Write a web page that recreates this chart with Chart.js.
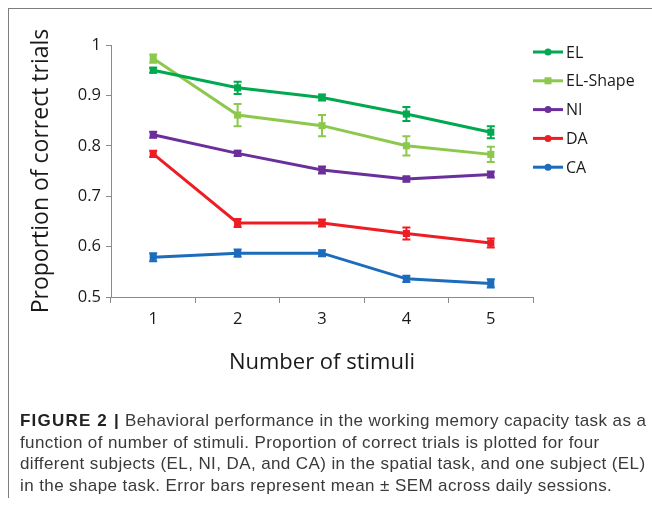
<!DOCTYPE html>
<html>
<head>
<meta charset="utf-8">
<script src="https://cdn.jsdelivr.net/npm/chart.js@4.4.1/dist/chart.umd.min.js"></script>
<style>
  body { margin: 0; background: #fff; }
  #wrap { position: relative; width: 652px; height: 505px; overflow: hidden; }
  #grafico { position: absolute; left: 0; top: 0; }
  #marco { position: absolute; left: 8px; top: 8px; width: 660px; height: 489px;
           border-left: 1.5px solid #7d7d7d; border-top: 1.5px solid #7d7d7d; pointer-events: none; }
  #pie { position: absolute; left: 20px; top: 410px; font-family: "Liberation Sans", Arial, sans-serif;
         font-size: 17px; letter-spacing: 0.4px; line-height: 21.7px; color: #3a3a3a; white-space: nowrap; }
  #pie b { color: #222; letter-spacing: 1.2px; }
</style>
</head>
<body>
<div id="wrap">
  <canvas id="grafico" width="652" height="390"></canvas>
  <div id="marco"></div>
  <div id="pie">
    <b>FIGURE 2 |</b> Behavioral performance in the working memory capacity task as a<br>
    function of number of stimuli. Proportion of correct trials is plotted for four<br>
    different subjects (EL, NI, DA, and CA) in the spatial task, and one subject (EL)<br>
    in the shape task. Error bars represent mean ± SEM across daily sessions.
  </div>
</div>
<script>
const categorias = ['1', '2', '3', '4', '5'];
const etiquetasY = ['0.5', '0.6', '0.7', '0.8', '0.9', '1'];

const elValores = [0.950, 0.915, 0.896, 0.863, 0.827];
const elError = [0.005, 0.012, 0.006, 0.014, 0.012];
const elShapeValores = [0.973, 0.861, 0.840, 0.800, 0.783];
const elShapeError = [0.008, 0.022, 0.021, 0.019, 0.015];
const niValores = [0.822, 0.785, 0.752, 0.734, 0.743];
const niError = [0.006, 0.005, 0.007, 0.005, 0.006];
const daValores = [0.784, 0.647, 0.647, 0.626, 0.607];
const daError = [0.006, 0.008, 0.007, 0.012, 0.009];
const caValores = [0.579, 0.587, 0.587, 0.536, 0.527];
const caError = [0.008, 0.007, 0.006, 0.006, 0.008];

const fuente = '"Open Sans", "DejaVu Sans", sans-serif';

function serie(label, data, errores, color, marca) {
  return {
    label, data, errores, marca,
    borderColor: color,
    backgroundColor: color,
    borderWidth: 3,
    pointStyle: 'rect',
    pointRadius: 5,
    pointBorderWidth: 0,
    tension: 0
  };
}

// barras de error con las escalas del grafico
const barrasError = {
  id: 'barrasError',
  afterDatasetsDraw(chart) {
    const ctx = chart.ctx;
    const y = chart.scales.y;
    chart.data.datasets.forEach((ds, i) => {
      const meta = chart.getDatasetMeta(i);
      ctx.save();
      ctx.strokeStyle = ds.borderColor;
      ctx.lineWidth = 2;
      meta.data.forEach((p, j) => {
        const v = ds.data[j], e = ds.errores[j];
        const y1 = y.getPixelForValue(v + e), y2 = y.getPixelForValue(v - e);
        ctx.beginPath();
        ctx.moveTo(p.x, y1); ctx.lineTo(p.x, y2);
        ctx.moveTo(p.x - 4, y1); ctx.lineTo(p.x + 4, y1);
        ctx.moveTo(p.x - 4, y2); ctx.lineTo(p.x + 4, y2);
        ctx.stroke();
      });
      ctx.restore();
    });
  }
};

// leyenda a la derecha, como en la figura
const leyenda = {
  id: 'leyenda',
  afterDraw(chart) {
    const ctx = chart.ctx;
    const x0 = chart.chartArea.right, y0 = 52, paso = 28.8;
    chart.data.datasets.forEach((ds, i) => {
      const yy = y0 + i * paso;
      ctx.save();
      ctx.strokeStyle = ds.borderColor;
      ctx.fillStyle = ds.borderColor;
      ctx.lineWidth = 3;
      ctx.beginPath();
      ctx.moveTo(x0, yy); ctx.lineTo(x0 + 30, yy);
      ctx.stroke();
      if (ds.marca === 'rect') {
        ctx.fillRect(x0 + 11.5, yy - 3.5, 7, 7);
      } else {
        ctx.beginPath();
        ctx.arc(x0 + 15, yy, 3.5, 0, Math.PI * 2);
        ctx.fill();
      }
      ctx.fillStyle = '#1a1a1a';
      ctx.font = '16px ' + fuente;
      ctx.textBaseline = 'middle';
      ctx.fillText(ds.label, x0 + 33, yy + 1);
      ctx.restore();
    });
  }
};

new Chart(document.getElementById('grafico'), {
  type: 'line',
  data: {
    labels: categorias,
    datasets: [
      serie('EL', elValores, elError, '#00a84f', 'circle'),
      serie('EL-Shape', elShapeValores, elShapeError, '#8cc84b', 'rect'),
      serie('NI', niValores, niError, '#6b2f9c', 'circle'),
      serie('DA', daValores, daError, '#ee1d23', 'circle'),
      serie('CA', caValores, caError, '#1b6cbc', 'circle')
    ]
  },
  options: {
    responsive: false,
    animation: false,
    layout: { padding: { top: 45, right: 119, left: 0, bottom: 0 } },
    plugins: { legend: { display: false }, tooltip: { enabled: false } },
    scales: {
      x: {
        offset: true,
        grid: { offset: true, drawOnChartArea: false, drawTicks: true, tickLength: 6, color: '#8a8a8a' },
        border: { color: '#8a8a8a', width: 1 },
        ticks: { color: '#1a1a1a', font: { family: fuente, size: 16.5 }, padding: 6 },
        title: { display: true, text: 'Number of stimuli', color: '#1a1a1a',
                 font: { family: fuente, size: 22 }, padding: { bottom: 14 } },
        afterFit: s => { s.height = 93; }
      },
      y: {
        min: 0.5,
        max: 1,
        grid: { drawOnChartArea: false, drawTicks: true, tickLength: 5, color: '#8a8a8a' },
        border: { color: '#8a8a8a', width: 1 },
        ticks: { stepSize: 0.1, color: '#1a1a1a', font: { family: fuente, size: 16.5 }, padding: 5,
                 callback: (v) => etiquetasY[Math.round((v - 0.5) * 10)] },
        title: { display: true, text: 'Proportion of correct trials', color: '#1a1a1a',
                 font: { family: fuente, size: 23 }, padding: { top: 28 } },
        afterFit: s => { s.width = 111; }
      }
    }
  },
  plugins: [barrasError, leyenda]
});
</script>
</body>
</html>
